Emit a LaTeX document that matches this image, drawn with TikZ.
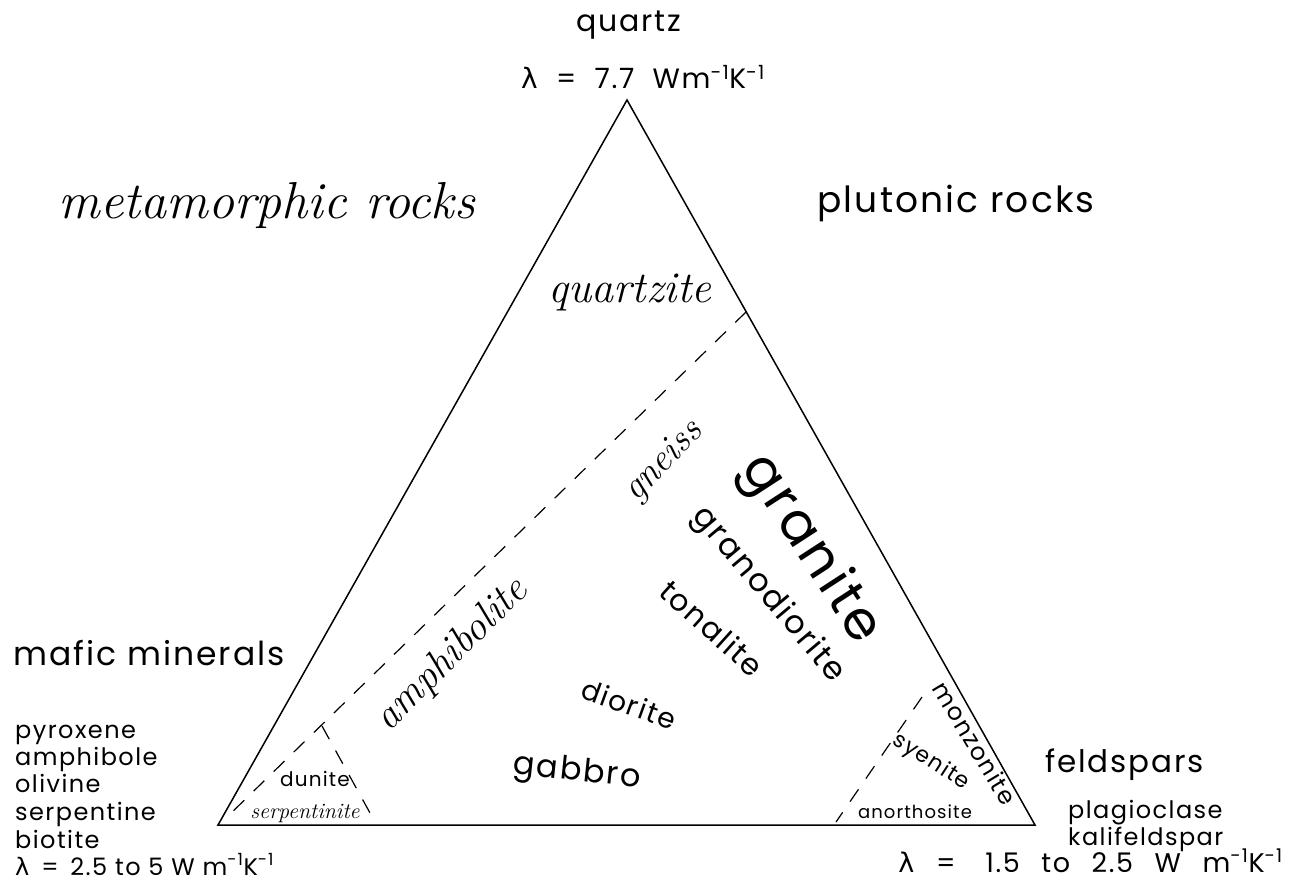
\documentclass[tikz,border=0pt]{standalone}
\usepackage{fontspec}
\newfontfamily\lettering[LetterSpace=6]{Poppins}
\newfontfamily\lamfont{DejaVu Sans}
\newcommand{\lam}{{\lamfont λ}}
\newcommand{\perwk}{m\textsuperscript{-1}K\textsuperscript{-1}}

\begin{document}
\begin{tikzpicture}[x=1pt,y=-1pt,
  edge/.style={line width=1.5pt},
  zone/.style={line width=1.2pt,dash pattern=on 15pt off 13pt},
  sans/.style={inner sep=0pt,font=\lettering\fontsize{#1}{#1}\selectfont},
  ital/.style={inner sep=0pt,font=\itshape\fontsize{#1}{#1}\selectfont}]
\path (0,0) rectangle (1292,881);
% corners of the triangle
\coordinate (qz) at (627,100);
\coordinate (mf) at (218,825);
\coordinate (fs) at (1035,825);
\draw[edge,line join=miter] (qz) -- (mf) -- (fs) -- cycle;
% field boundaries
\coordinate (d1a) at (746,312);
\coordinate (d1b) at (226,818);
\coordinate (d2a) at (322,726);
\coordinate (d2b) at (375,822);
\coordinate (d3a) at (922,697);
\coordinate (d3b) at (836,822);
\draw[zone] (d1a) -- (d1b);
\draw[zone] (d2a) -- (d2b);
\draw[zone] (d3a) -- (d3b);
% end members
\node[sans=30] (quartz) at (629,25) {quartz};
\node[sans=28] (lamq) at (643,77) {\lam{} \ =\ \ 7.7\ \ W\perwk};
\node[ital=52] (meta) at (267,205) {metamorphic rocks};
\node[sans=36] (pluto) at (956,203) {plutonic rocks};
\node[sans=33,anchor=base west] (mafic) at (13,665) {mafic minerals};
\node[sans=24,anchor=base west] (px) at (15,738) {pyroxene};
\node[sans=24,anchor=base west] (amph) at (15,765) {amphibole};
\node[sans=24,anchor=base west] (ol) at (15,792) {olivine};
\node[sans=24,anchor=base west] (serp) at (15,820) {serpentine};
\node[sans=24,anchor=base west] (bt) at (15,848) {biotite};
\node[sans=24,anchor=base west] (laml) at (15,875) {\lam{} \,=\, 2.5\ to\ 5\ W\ \perwk};
\node[sans=31,anchor=base west] (feld) at (1045,772) {feldspars};
\node[sans=24,anchor=base west] (plag) at (1068,818) {plagioclase};
\node[sans=24,anchor=base west] (kfs) at (1068,845) {kalifeldspar};
\node[sans=27,anchor=base east] (lamr) at (1283,872)
  {\lam{}\hspace{0.8em}=\hspace{1.1em}1.5\hspace{0.8em}to\hspace{0.8em}2.5\hspace{0.8em}W\hspace{0.8em}\perwk};
% rock names
\node[ital=44] (qzite) at (630,292) {quartzite};
\node[ital=38,rotate=46] (gneiss) at (664,462) {gneiss};
\node[ital=41,rotate=45] (amphib) at (452,655) {amphibolite};
\node[sans=54,rotate=-57] (granite) at (810,550) {granite};
\node[sans=32,rotate=-50] (grdio) at (768,595) {granodiorite};
\node[sans=30,rotate=-42] (tonal) at (712,628) {tonalite};
\node[sans=28,rotate=-20] (dior) at (629,704) {diorite};
\node[sans=32,rotate=-6] (gab) at (577,773) {gabbro};
\node[sans=20] (dun) at (315,779) {dunite};
\node[ital=22] (serpite) at (305,813) {serpentinite};
\node[sans=18] (anor) at (915,812) {anorthosite};
\node[sans=22,rotate=-33] (sye) at (931,762) {syenite};
\node[sans=24,rotate=-59] (monz) at (975,743) {monzonite};
\end{tikzpicture}
\end{document}
